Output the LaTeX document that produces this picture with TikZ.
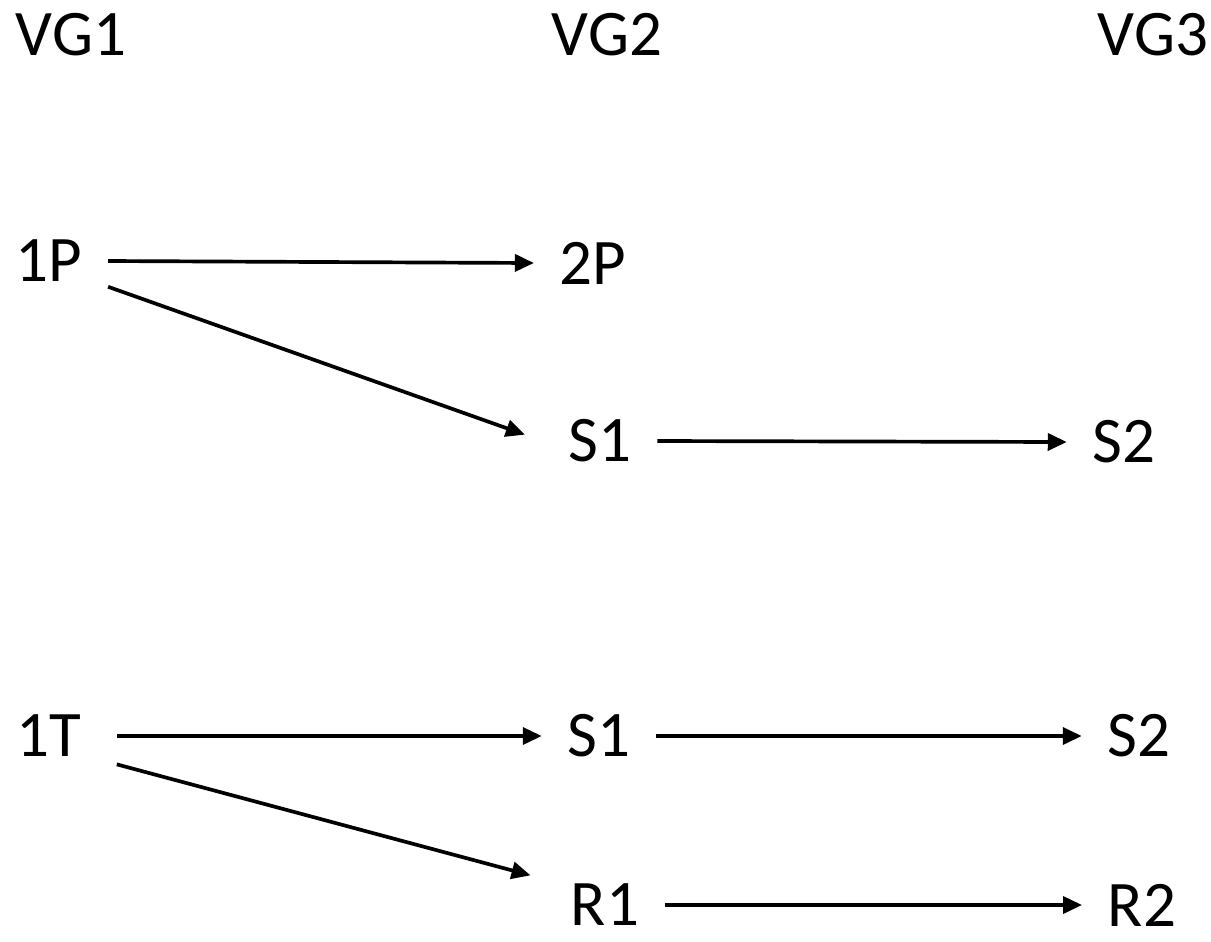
\documentclass[tikz,border=0pt]{standalone}
\usepackage{fontspec}
\setmainfont{Carlito}
\usetikzlibrary{arrows.meta}

\begin{document}
\begin{tikzpicture}[x=0.02cm, y=-0.02cm, line width=2.1pt,
                lbl/.style={font=\fontsize{37}{44}\selectfont, inner xsep=0.48cm, inner ysep=0.06cm},
                arr/.style={-{Triangle[length=0.38cm, width=0.34cm]}}]
                \useasboundingbox (0, 0) rectangle (1211, 941);
                \node[lbl] (vg1) at (71, 35) {VG1};
                \node[lbl] (vg2) at (607, 35) {VG2};
                \node[lbl] (vg3) at (1153, 35) {VG3};
                \node[lbl] (p1) at (49, 261) {1P};
                \node[lbl] (p2) at (593, 263) {2P};
                \node[lbl] (s1a) at (600, 441) {S1};
                \node[lbl] (s2a) at (1124, 442) {S2};
                \node[lbl] (t1) at (49, 736) {1T};
                \node[lbl] (s1b) at (599, 736) {S1};
                \node[lbl] (s2b) at (1139, 736) {S2};
                \node[lbl] (r1) at (605, 905) {R1};
                \node[lbl] (r2) at (1142, 905) {R2};
                \draw[arr] (p1.east) -- (p2.west);
                \draw[arr, shorten >=0.38cm] (p1.south east) -- (s1a.west);
                \draw[arr] (s1a.east) -- (s2a.west);
                \draw[arr, shorten <=0.2cm] (t1.east) -- (s1b.west);
                \draw[arr] (s1b.east) -- (s2b.west);
                \draw[arr, shorten <=0.2cm, shorten >=0.3cm] (t1.south east) -- (r1.north west);
                \draw[arr] (r1.east) -- (r2.west);
        \end{tikzpicture}
\end{document}
